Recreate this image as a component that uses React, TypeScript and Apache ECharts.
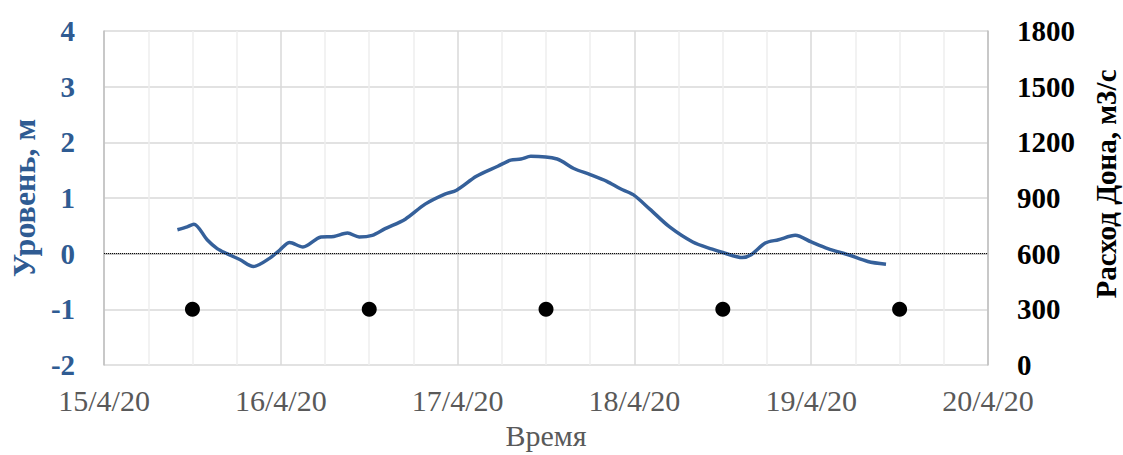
import React, { useEffect, useRef } from "react";
import * as echarts from "echarts";

// Time in days of April 2020 (15.5 = 15/4/20 12:00)
const levelDays = [
  15.415, 15.47, 15.508, 15.583, 15.64, 15.695, 15.77, 15.845, 15.938, 15.994,
  16.05, 16.125, 16.227, 16.3, 16.377, 16.443, 16.517, 16.59, 16.704, 16.816,
  16.928, 16.994, 17.106, 17.227, 17.3, 17.358, 17.414, 17.563, 17.657, 17.75,
  17.844, 17.918, 17.993, 18.087, 18.199, 18.33, 18.44, 18.5, 18.61, 18.66,
  18.74, 18.815, 18.91, 19.0, 19.094, 19.21, 19.32, 19.423,
];
const levelValues = [
  0.43, 0.48, 0.53, 0.25, 0.09, 0.0, -0.11, -0.23, -0.08, 0.065,
  0.2, 0.12, 0.3, 0.31, 0.37, 0.3, 0.33, 0.45, 0.62, 0.89,
  1.07, 1.14, 1.39, 1.57, 1.68, 1.7, 1.75, 1.7, 1.53, 1.42,
  1.3, 1.17, 1.06, 0.8, 0.48, 0.21, 0.08, 0.02, -0.07, -0.02,
  0.19, 0.25, 0.33, 0.21, 0.09, -0.02, -0.14, -0.19,
];
const flowDays = [15.5, 16.5, 17.5, 18.5, 19.5];
const flowValues = [300, 300, 300, 300, 300];

const xMin = 15;
const xMax = 20;
const levelMin = -2;
const levelMax = 4;
const flowMin = 0;
const flowMax = 1800;

const SERIF = "'Liberation Serif', 'Times New Roman', serif";
const BLUE = "#35609a";
const BLUE_TEXT = "#2f5b92";

export default function App() {
  const ref = useRef<HTMLDivElement>(null);
  useEffect(() => {
    if (!ref.current) return;
    document.body.style.margin = "0";
    const chart = echarts.init(ref.current, null, { renderer: "svg" });
    chart.setOption({
      animation: false,
      backgroundColor: "#ffffff",
      grid: { left: 96, right: 135, top: 31, bottom: 85, containLabel: false },
      xAxis: {
        type: "value",
        min: xMin,
        max: xMax,
        interval: 1,
        name: "Время",
        nameLocation: "middle",
        nameGap: 55,
        nameTextStyle: { fontFamily: SERIF, fontSize: 30, color: "#595959" },
        axisLine: { show: true, lineStyle: { color: "#bfbfbf", width: 1.5 } },
        axisTick: { show: false },
        axisLabel: {
          margin: 20,
          fontFamily: SERIF,
          fontSize: 30,
          color: "#595959",
          formatter: (v: number) => `${Math.round(v)}/4/20`,
        },
        splitLine: { show: true, lineStyle: { color: "#d9d9d9", width: 1.5 } },
        minorTick: { show: false, splitNumber: 4 },
        minorSplitLine: { show: true, lineStyle: { color: "#eeeeee", width: 1.5 } },
      },
      yAxis: [
        {
          type: "value",
          min: levelMin,
          max: levelMax,
          interval: 1,
          name: "Уровень, м",
          nameLocation: "middle",
          nameGap: 56,
          nameTextStyle: { fontFamily: SERIF, fontSize: 32, fontWeight: "bold", color: BLUE_TEXT },
          axisLine: { show: true, lineStyle: { color: "#bfbfbf", width: 1.5 } },
          axisTick: { show: false },
          axisLabel: { margin: 29, fontFamily: SERIF, fontSize: 29, fontWeight: "bold", color: BLUE_TEXT },
          splitLine: { show: true, lineStyle: { color: "#d9d9d9", width: 1.5 } },
        },
        {
          type: "value",
          min: flowMin,
          max: flowMax,
          interval: 300,
          position: "right",
          axisLine: { show: true, lineStyle: { color: "#bfbfbf", width: 1.5 } },
          axisTick: { show: false },
          axisLabel: {
            margin: 29,
            fontFamily: SERIF,
            fontSize: 29,
            fontWeight: "bold",
            color: "#000000",
            formatter: (v: number) => String(v),
          },
          splitLine: { show: false },
        },
      ],
      graphic: [
        {
          type: "text",
          x: 1106,
          y: 184,
          rotation: Math.PI / 2,
          style: {
            text: "Расход Дона, м3/с",
            fontFamily: SERIF,
            fontSize: 29,
            lineHeight: 29,
            fontWeight: "bold",
            fill: "#000000",
            align: "center",
            verticalAlign: "middle",
          },
        },
      ],
      series: [
        {
          name: "Уровень",
          type: "line",
          yAxisIndex: 0,
          data: levelDays.map((d, i) => [d, levelValues[i]]),
          smooth: 0.3,
          showSymbol: false,
          lineStyle: { color: BLUE, width: 3.5 },
          itemStyle: { color: BLUE },
          markLine: {
            silent: true,
            symbol: ["none", "none"],
            label: { show: false },
            lineStyle: { color: "#000000", type: "dotted", width: 1 },
            data: [{ yAxis: 0 }],
          },
          z: 3,
        },
        {
          name: "Расход",
          type: "scatter",
          yAxisIndex: 1,
          data: flowDays.map((d, i) => [d, flowValues[i]]),
          symbol: "circle",
          symbolSize: 15,
          itemStyle: { color: "#000000", opacity: 1 },
          z: 4,
        },
      ],
    });
    return () => chart.dispose();
  }, []);
  return <div ref={ref} style={{ width: 1123, height: 455 }} />;
}
